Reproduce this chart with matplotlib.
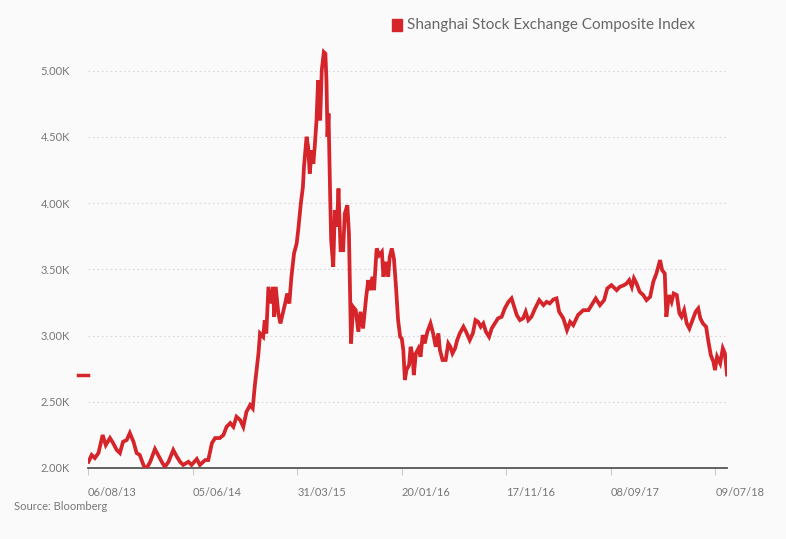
import matplotlib
matplotlib.use("Agg")
import matplotlib.pyplot as plt
from matplotlib.transforms import blended_transform_factory
from matplotlib.patches import Rectangle

# trading-day index (0 = 06/08/13) and index level
day = [1, 7, 13, 20, 28, 34, 42, 48, 55, 61, 67, 74, 80, 87, 93, 99, 106, 111,
       119, 128, 134, 141, 147, 154, 163, 170, 176, 182, 192, 198, 208, 214,
       224, 230, 237, 243, 252, 259, 265, 272, 278, 284, 291, 297, 303, 310,
       315, 319, 326, 329, 335, 338, 341, 345, 351, 354, 356, 359, 364, 368,
       377, 381, 385, 389, 394, 399, 402, 407, 411, 413, 418, 421, 424, 428,
       431, 434, 437, 440, 444, 447, 451, 454, 456, 458, 460, 463, 465, 469,
       472, 476, 479, 483, 488, 491, 496, 499, 503, 507, 512, 517, 521, 526,
       532, 536, 539, 544, 547, 552, 557, 562, 565, 569, 574, 577, 581, 585,
       589, 593, 597, 600, 603, 606, 609, 614, 617, 621, 623, 627, 632, 636,
       640, 644, 649, 655, 660, 665, 670, 673, 678, 684, 689, 693, 697, 702,
       706, 711, 718, 723, 730, 736, 741, 746, 751, 756, 761, 767, 772, 778,
       784, 791, 797, 804, 810, 815, 820, 826, 832, 837, 842, 848, 855, 863,
       871, 877, 883, 890, 896, 901, 909, 916, 922, 928, 937, 947, 957, 963,
       971, 979, 987, 993, 1001, 1011, 1017, 1025, 1030, 1035, 1040, 1044,
       1049, 1055, 1062, 1068, 1075, 1081, 1087, 1094, 1098, 1103, 1106, 1111,
       1116, 1120, 1126, 1131, 1135, 1140, 1145, 1150, 1156, 1162, 1167, 1171,
       1176, 1182, 1186, 1191, 1196, 1199, 1203, 1209, 1214, 1218, 1222]
level = [2047, 2098, 2075, 2113, 2249, 2173, 2226, 2188, 2136, 2113, 2198, 2211,
         2264, 2198, 2113, 2098, 2023, 1990, 2047, 2143, 2098, 2047, 2008, 2047,
         2136, 2085, 2047, 2023, 2047, 2023, 2068, 2023, 2060, 2060, 2188, 2226,
         2226, 2249, 2311, 2339, 2311, 2387, 2362, 2311, 2424, 2475, 2450, 2620,
         2865, 3016, 2990, 3116, 3016, 3367, 3242, 3367, 3141, 3367, 3167, 3091,
         3242, 3317, 3242, 3443, 3619, 3694, 3795, 3996, 4121, 4272, 4500, 4423,
         4222, 4398, 4298, 4448, 4624, 4926, 4624, 5001, 5139, 5127, 4926, 4500,
         4675, 4072, 3719, 3518, 3946, 3820, 4109, 3644, 3644, 3920, 3983, 3770,
         2940, 3216, 3191, 3028, 3179, 3053, 3292, 3418, 3342, 3443, 3342, 3657,
         3606, 3631, 3443, 3556, 3443, 3594, 3657, 3581, 3367, 3116, 2990, 2978,
         2890, 2664, 2739, 2777, 2915, 2840, 2701, 2865, 2903, 2840, 3003, 2940,
         3028, 3091, 3016, 2915, 3016, 2890, 2815, 2815, 2940, 2915, 2865, 2903,
         2965, 3016, 3066, 3028, 2965, 3016, 3116, 3103, 3066, 3091, 3028, 2990,
         3053, 3091, 3129, 3141, 3204, 3254, 3280, 3216, 3154, 3116, 3129, 3179,
         3116, 3141, 3204, 3267, 3229, 3254, 3242, 3272, 3280, 3179, 3129, 3041,
         3103, 3078, 3154, 3191, 3191, 3229, 3280, 3229, 3267, 3355, 3380, 3342,
         3367, 3380, 3393, 3418, 3367, 3431, 3393, 3330, 3305, 3267, 3292, 3405,
         3468, 3569, 3493, 3468, 3141, 3305, 3254, 3317, 3305, 3167, 3141, 3191,
         3091, 3053, 3116, 3179, 3204, 3129, 3091, 3066, 2965, 2852, 2802, 2739,
         2840, 2790, 2903, 2865, 2705]

tick_days = [0, 200, 400, 600, 800, 1000, 1200]
tick_labels = ["06/08/13", "05/06/14", "31/03/15", "20/01/16", "17/11/16",
               "08/09/17", "09/07/18"]
y_ticks = [2000, 2500, 3000, 3500, 4000, 4500, 5000]
y_labels = ["2.00K", "2.50K", "3.00K", "3.50K", "4.00K", "4.50K", "5.00K"]

RED = "#d5242a"
GREY = "#777777"
BG = "#fafafa"

plt.rcParams["font.family"] = ["Lato", "DejaVu Sans"]

fig = plt.figure(figsize=(7.86, 5.39), dpi=100, facecolor=BG)
ax = fig.add_axes([88 / 786, 1 - 468 / 539, (727 - 88) / 786, (468 - 44) / 539])
ax.set_facecolor(BG)

ax.plot(day, level, color=RED, lw=2.7, solid_joinstyle="miter", zorder=3)

ax.set_xlim(0, day[-1])
ax.set_ylim(2000, 5200)

for yv in y_ticks[1:]:
    ax.axhline(yv, color="#d8d8d8", lw=0.8, ls=(0, (1.5, 2.5)), zorder=1)

for s in ["top", "right", "left"]:
    ax.spines[s].set_visible(False)
ax.spines["bottom"].set_color("#555555")
ax.spines["bottom"].set_linewidth(1.3)

ax.set_yticks(y_ticks)
ax.set_yticklabels(y_labels)
ax.tick_params(axis="y", length=0, pad=13, labelsize=8, labelcolor=GREY)

ax.set_xticks(tick_days)
ax.set_xticklabels(tick_labels, ha="left")
ax.tick_params(axis="x", length=5, width=0.8, color="#cccccc", pad=9,
               labelsize=8, labelcolor=GREY)

# last value marker on the value axis
trans = blended_transform_factory(ax.transAxes, ax.transData)
ax.plot([-0.016, 0.0], [level[-1], level[-1]], color=RED, lw=2.5,
        transform=trans, clip_on=False)

# legend
fig.patches.append(Rectangle((392 / 786, 1 - 31 / 539), 10 / 786, 12 / 539,
                             transform=fig.transFigure, color=RED))
fig.text(407 / 786, 1 - 25 / 539, "Shanghai Stock Exchange Composite Index",
         fontsize=11, color="#666666", va="center", ha="left")

fig.text(14 / 786, 1 - 507 / 539, "Source: Bloomberg", fontsize=8,
         color=GREY, va="center", ha="left")

fig.savefig("out.png", dpi=100, facecolor=BG)
